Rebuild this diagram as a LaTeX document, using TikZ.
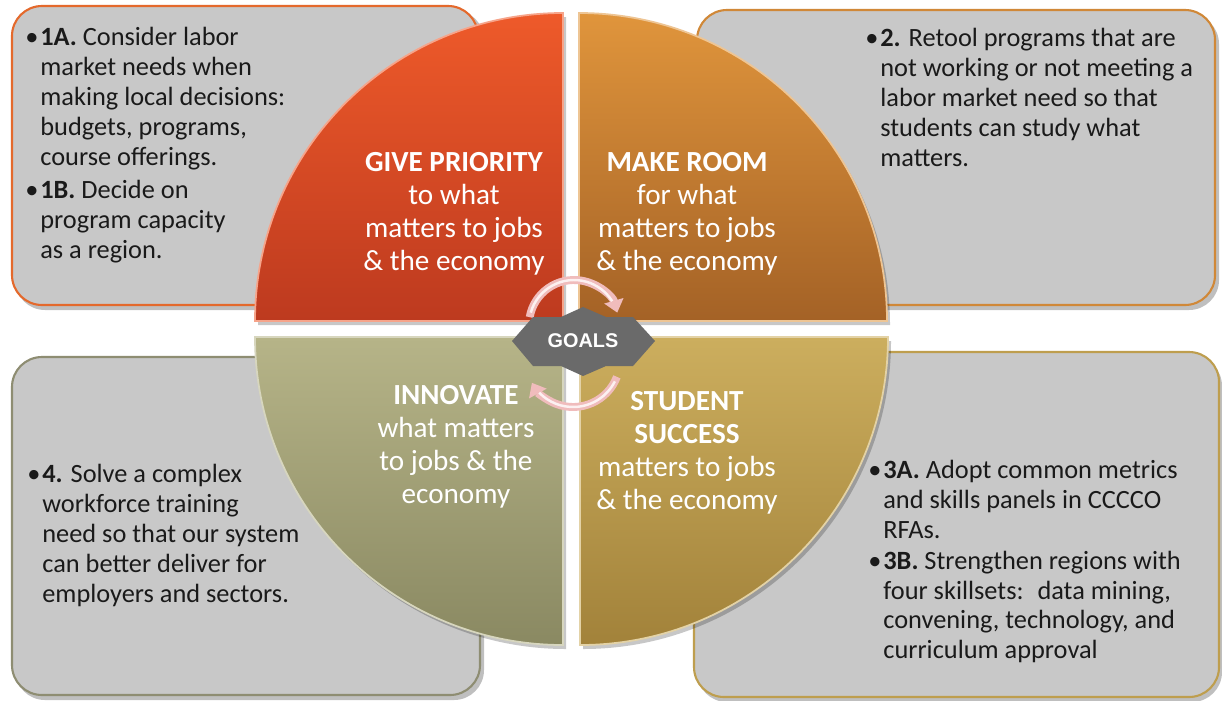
\documentclass[tikz,border=0pt]{standalone}
\usepackage{fontspec}
\setmainfont{Carlito}
\newfontfamily\goalsfont{Liberation Sans}
\usetikzlibrary{arrows.meta}
\definecolor{boxfill}{HTML}{C8C8C8}
\definecolor{bordA}{HTML}{E4692C}
\definecolor{bordB}{HTML}{D08838}
\definecolor{bordC}{HTML}{8E8D72}
\definecolor{bordD}{HTML}{BE9E4E}
\definecolor{qAtop}{HTML}{EE5A2A}
\definecolor{qAbot}{HTML}{BD3A1F}
\definecolor{qBtop}{HTML}{E0953C}
\definecolor{qBbot}{HTML}{A46226}
\definecolor{qCtop}{HTML}{B6B488}
\definecolor{qCbot}{HTML}{8A8962}
\definecolor{qDtop}{HTML}{CCAE5E}
\definecolor{qDbot}{HTML}{A2823A}
\definecolor{goalgray}{HTML}{6A6A6A}
\definecolor{ringpink}{HTML}{F0BCBC}
\definecolor{txt}{HTML}{1A1A1A}
\begin{document}
\begin{tikzpicture}[x=0.02cm,y=-0.02cm,
  infobox/.style={fill=boxfill, line width=1.2pt, rounded corners=0.6cm},
  boxshadow/.style={fill=black, opacity=0.25, rounded corners=0.6cm},
  quadshadow/.style={fill=black, opacity=0.22},
  boxtext/.style={anchor=north west, inner sep=0pt, align=left, text=txt, font=\fontsize{15pt}{17pt}\selectfont},
  quadtext/.style={anchor=north, inner sep=0pt, align=center, text=white, font=\fontsize{16.6pt}{18.7pt}\selectfont},
  ring/.style={draw=ringpink, line width=4.5pt, -{Triangle[length=7pt,width=11pt]}},
  ringhi/.style={draw=white, line width=1.4pt, opacity=0.8},
]
\useasboundingbox (0,0) rectangle (1222,700);
\fill[white] (0,0) rectangle (1222,700);

% ---- info boxes ----
\fill[boxshadow] (15,10) rectangle (484,310);
\fill[boxshadow] (700,14) rectangle (1219,310);
\fill[boxshadow] (15,362) rectangle (484,700);
\fill[boxshadow] (697,356) rectangle (1222,702);
\draw[infobox, draw=bordA] (12,6) rectangle (478,305);
\draw[infobox, draw=bordB] (697,10) rectangle (1215,305);
\draw[infobox, draw=bordC] (12,357) rectangle (480,695);
\draw[infobox, draw=bordD] (694,352) rectangle (1219,697);

% ---- quadrants ----
\fill[quadshadow] (566,325) -- (258,325) arc[start angle=180,end angle=270,radius=308] -- cycle;
\fill[quadshadow] (582,325) -- (582,17) arc[start angle=270,end angle=360,radius=308] -- cycle;
\fill[quadshadow] (566,341) -- (258,341) arc[start angle=180,end angle=90,radius=308] -- cycle;
\fill[quadshadow] (583,341) -- (891,341) arc[start angle=0,end angle=90,radius=308] -- cycle;

\path[top color=qAtop, bottom color=qAbot, draw=qAtop!55!white, line width=1pt]
  (563,321) -- (255,321) arc[start angle=180,end angle=270,radius=308] -- cycle;
\path[top color=qBtop, bottom color=qBbot, draw=qBtop!55!white, line width=1pt]
  (579,321) -- (579,13) arc[start angle=270,end angle=360,radius=308] -- cycle;
\path[top color=qCtop, bottom color=qCbot, draw=qCtop!55!white, line width=1pt]
  (563,337) -- (255,337) arc[start angle=180,end angle=90,radius=308] -- cycle;
\path[top color=qDtop, bottom color=qDbot, draw=qDtop!55!white, line width=1pt]
  (580,337) -- (888,337) arc[start angle=0,end angle=90,radius=308] -- cycle;

% ---- quadrant texts ----
\node[quadtext] (q1) at (454,152) {\textbf{GIVE PRIORITY}\\to what\\matters to jobs\\\& the economy};
\node[quadtext] (q2) at (687,152) {\textbf{MAKE ROOM}\\for what\\matters to jobs\\\& the economy};
\node[quadtext] (q4) at (456,385) {\textbf{INNOVATE}\\what matters\\to jobs \& the\\economy};
\node[quadtext] (q3) at (687,391) {\textbf{STUDENT}\\\textbf{SUCCESS}\\matters to jobs\\\& the economy};

% ---- box texts ----
\node[boxtext] (t1) at (40,27) {\llap{•\hspace{1pt}}\textbf{1A.} Consider labor\\market needs when\\making local decisions:\\budgets, programs,\\course offerings.\\[2pt]\llap{•\hspace{1pt}}\textbf{1B.} Decide on\\program capacity\\as a region.};
\node[boxtext] (t2) at (880,28) {\llap{•\hspace{1pt}}\textbf{2.} Retool programs that are\\not working or not meeting a\\labor market need so that\\students can study what\\matters.};
\node[boxtext] (t4) at (42,464) {\llap{•\hspace{1pt}}\textbf{4.} Solve a complex\\workforce training\\need so that our system\\can better deliver for\\employers and sectors.};
\node[boxtext] (t3) at (883,460) {\llap{•\hspace{1pt}}\textbf{3A.} Adopt common metrics\\and skills panels in CCCCO\\RFAs.\\[0.5pt]\llap{•\hspace{1pt}}\textbf{3B.} Strengthen regions with\\four skillsets:~ data mining,\\convening, technology, and\\curriculum approval};

% ---- circular arrows ----
\draw[ring] (574,325) ++(190:45) arc[start angle=190,end angle=344,radius=45];
\draw[ringhi] (574,325) ++(196:45) arc[start angle=196,end angle=328,radius=45];
\draw[ring] (573,360) ++(21:47) arc[start angle=21,end angle=151,radius=47];
\draw[ringhi] (573,360) ++(27:47) arc[start angle=27,end angle=136,radius=47];

% ---- GOALS star ----
\fill[goalgray] (512,341) -- (533,317) -- (561,317) -- (583,307) -- (606,317) -- (633,317)
  -- (655,341) -- (633,366) -- (606,366) -- (583,376) -- (561,366) -- (533,366) -- cycle;
\node[font=\goalsfont\bfseries\fontsize{11.3pt}{13pt}\selectfont, text=white, inner sep=0pt] (goals) at (583,341) {GOALS};
\end{tikzpicture}
\end{document}
